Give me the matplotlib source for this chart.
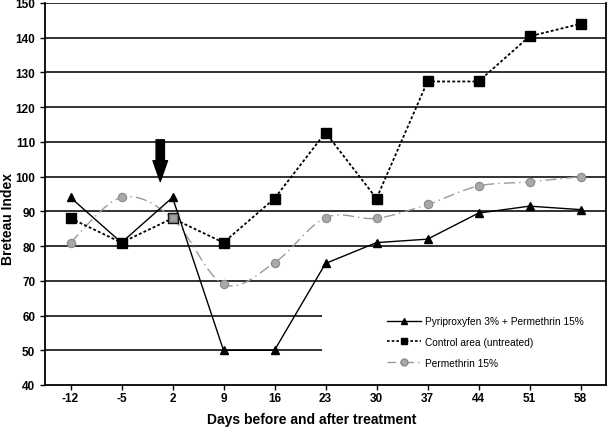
import matplotlib
matplotlib.use("Agg")
from matplotlib import pyplot as plt
from matplotlib.path import Path
from matplotlib.patches import PathPatch, Rectangle
from matplotlib.lines import Line2D
import numpy as np

days = [-12, -5, 2, 9, 16, 23, 30, 37, 44, 51, 58]
pyriproxyfen = [94, 81, 94, 50, 50, 75, 81, 82, 89.5, 91.5, 90.5]
control = [88, 81, 88, 81, 93.7, 112.7, 93.7, 127.4, 127.4, 140.4, 144]
permethrin = [81, 94, 88, 69, 75.2, 88.2, 88, 92, 97.3, 98.5, 100]

labels = ["Pyriproxyfen 3% + Permethrin 15%",
          "Control area (untreated)",
          "Permethrin 15%"]

plt.rcParams['font.family'] = ['Liberation Sans', 'DejaVu Sans']


def smooth_path(xs, ys):
    # Excel-like smoothed line: Catmull-Rom segments as cubic Beziers
    pts = np.column_stack([xs, ys]).astype(float)
    ext = np.vstack([pts[0], pts, pts[-1]])
    verts = [tuple(pts[0])]
    codes = [Path.MOVETO]
    for i in range(1, len(ext) - 2):
        p0, p1, p2, p3 = ext[i - 1], ext[i], ext[i + 1], ext[i + 2]
        c1 = p1 + (p2 - p0) / 6.0
        c2 = p2 - (p3 - p1) / 6.0
        verts += [tuple(c1), tuple(c2), tuple(p2)]
        codes += [Path.CURVE4] * 3
    return Path(verts, codes)


fig = plt.figure(figsize=(6.09, 4.31), dpi=100)
ax = fig.add_axes([45 / 609, 1 - 386 / 431, 561 / 609, 382 / 431])

x = np.arange(len(days))

ax.set_xlim(-0.5, len(days) - 0.5)
ax.set_ylim(40, 150)
ax.set_yticks(range(40, 151, 10))
ax.set_xticks(x)
ax.set_xticklabels([str(d) for d in days])

for v in range(50, 151, 10):
    ax.axhline(v, color='#222222', lw=1.3, zorder=0.5)

# white box behind the legend hides the lower gridlines
ax.add_patch(Rectangle((4.94, 42), 6.0, 25.5, facecolor='white',
                       edgecolor='none', zorder=1))

# permethrin: smoothed grey dash-dot line
pp = PathPatch(smooth_path(x, permethrin), facecolor='none',
               edgecolor='#9a9a9a', lw=1.0, linestyle=(0, (8, 3, 1, 3)),
               zorder=2)
ax.add_patch(pp)
ax.plot(x, permethrin, linestyle='none', marker='o', ms=6,
        mfc='#a8a8a8', mec='#8a8a8a', mew=0.8, zorder=3)

ax.plot(x, control, linestyle=(0, (1.6, 1.2)), color='black', lw=1.3,
        marker='s', ms=6.5, mfc='black', mec='black', zorder=3)
ax.plot(x, pyriproxyfen, '-', color='black', lw=1.0,
        marker='^', ms=6, mfc='black', mec='black', zorder=4)

# redraw the overlapping point at day 2 grey like the source
ax.plot([x[2]], [permethrin[2]], linestyle='none', marker='s', ms=6,
        mfc='#a0a0a0', mec='#707070', zorder=4)

ax.annotate('', xy=(1.76, 98.6), xytext=(1.76, 110.6),
            arrowprops=dict(arrowstyle='simple,head_length=1.5,'
                            'head_width=1.05,tail_width=0.6',
                            fc='black', ec='black', shrinkA=0, shrinkB=0,
                            mutation_scale=10),
            zorder=5)

for s in ['left', 'bottom', 'right', 'top']:
    ax.spines[s].set_color('black')
    ax.spines[s].set_linewidth(1.3)
ax.spines['top'].set_visible(False)

ax.tick_params(axis='both', direction='out', length=3.5, width=1.0,
               labelsize=8.5)
ax.tick_params(axis='y', pad=3.5)
ax.tick_params(axis='x', pad=1.5)
for lab in ax.get_xticklabels() + ax.get_yticklabels():
    lab.set_fontweight('bold')

ax.set_xlabel("Days before and after treatment", fontsize=10,
              fontweight='bold')
ax.set_ylabel("Breteau Index", fontsize=10, fontweight='bold')
ax.xaxis.set_label_coords(0.476, -0.07)
ax.yaxis.set_label_coords(-0.053, 0.436)

handles = [
    Line2D([], [], color='black', lw=1.0, marker='^', ms=5,
           mfc='black'),
    Line2D([], [], color='black', lw=1.2, linestyle=(0, (1.6, 1.2)),
           marker='s', ms=5, mfc='black'),
    Line2D([], [], color='#9a9a9a', lw=1.0, linestyle=(0, (6, 3, 1, 3)),
           marker='o', ms=5, mfc='#a8a8a8', mec='#8a8a8a'),
]
leg = ax.legend(handles, labels, loc='center left', frameon=False,
                bbox_to_anchor=(387 / 609, 1 - 343 / 431),
                bbox_transform=fig.transFigure, borderpad=0,
                borderaxespad=0, handlelength=3.4, handletextpad=0.35,
                labelspacing=1.05, prop={'size': 7.3})

fig.savefig("out.png", dpi=100)
